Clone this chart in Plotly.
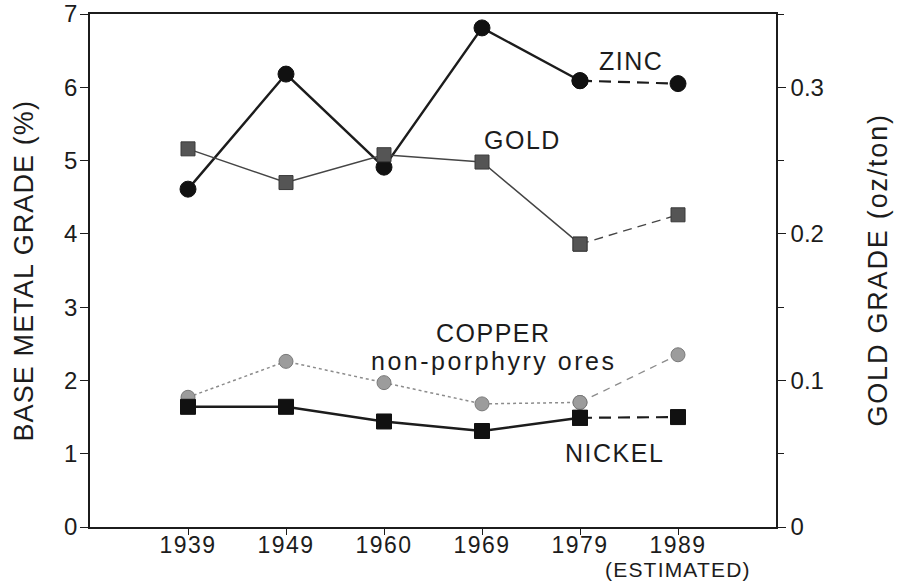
import plotly.graph_objects as go

years = ["1939", "1949", "1960", "1969", "1979", "1989"]
zinc = [4.61, 6.18, 4.91, 6.81, 6.09, 6.05]
gold = [0.258, 0.235, 0.254, 0.249, 0.193, 0.213]   # oz/ton, right axis
copper = [1.77, 2.26, 1.97, 1.68, 1.70, 2.35]
nickel = [1.64, 1.64, 1.44, 1.31, 1.49, 1.50]

FONT = "Liberation Sans, Arial, sans-serif"
INK = "#1c1c1c"


def sp(text, px):
    return f"<span style='letter-spacing:{px}px'>{text}</span>"


fig = go.Figure()


def add_series(vals, yaxis, line_col, width, dash_solid, dash_est, m_sym, m_size, m_col, m_line):
    # measured part 1939-1979
    fig.add_trace(go.Scatter(
        x=years[:5], y=vals[:5], mode="lines+markers", yaxis=yaxis,
        line=dict(color=line_col, width=width, dash=dash_solid),
        marker=dict(symbol=m_sym, size=m_size, color=m_col, line=dict(color=m_line, width=1)),
        showlegend=False, hoverinfo="skip"))
    # estimated part 1979-1989
    fig.add_trace(go.Scatter(
        x=years[4:], y=vals[4:], mode="lines+markers", yaxis=yaxis,
        line=dict(color=line_col, width=width * 0.9, dash=dash_est),
        marker=dict(symbol=m_sym, size=m_size, color=m_col, line=dict(color=m_line, width=1)),
        showlegend=False, hoverinfo="skip"))


add_series(zinc, "y", INK, 2.4, "solid", "12px,7px", "circle", 16, "#111111", "#111111")
add_series(gold, "y2", "#454545", 1.5, "solid", "9px,6px", "square", 14, "#555555", "#3a3a3a")
add_series(copper, "y", "#8c8c8c", 1.5, "dot", "7px,6px", "circle", 14, "#9c9c9c", "#7a7a7a")
add_series(nickel, "y", INK, 2.4, "solid", "12px,7px", "square", 15, "#111111", "#111111")

ann_font = dict(family=FONT, size=25, color=INK)
labels = [
    ("ZINC", 4.52, 6.36, 1.5),
    ("GOLD", 3.41, 5.28, 1.5),
    ("COPPER", 3.12, 2.65, 1.5),
    ("non-porphyry ores", 3.12, 2.27, 2.5),
    ("NICKEL", 4.35, 1.01, 1.5),
]
for txt, xx, yy, ls in labels:
    fig.add_annotation(x=xx, y=yy, xref="x", yref="y", text=sp(txt, ls),
                       showarrow=False, font=ann_font, xanchor="center", yanchor="middle")

fig.add_annotation(x=5, y=0, xref="x", yref="y", yshift=-42, text=sp("(ESTIMATED)", 1.2),
                   showarrow=False, font=dict(family=FONT, size=21, color=INK),
                   xanchor="center", yanchor="middle")

fig.add_annotation(x=0, y=0.5, xref="paper", yref="paper", xshift=-67, textangle=-90,
                   text=sp("BASE METAL GRADE (%)", 1.1), showarrow=False,
                   font=dict(family=FONT, size=27, color=INK), xanchor="center", yanchor="middle")
fig.add_annotation(x=1, y=0.5, xref="paper", yref="paper", xshift=101, textangle=-90,
                   text=sp("GOLD GRADE (oz/ton)", 1.8), showarrow=False,
                   font=dict(family=FONT, size=27, color=INK), xanchor="center", yanchor="middle")

tick_font = dict(family=FONT, size=23, color=INK)
fig.update_layout(
    width=900, height=581,
    margin=dict(l=90, r=124, t=14, b=54),
    paper_bgcolor="white", plot_bgcolor="white",
    xaxis=dict(type="category", range=[-1, 6], tickvals=years,
               ticktext=[sp(y, 1.5) for y in years], automargin=False,
               showline=True, linecolor=INK, linewidth=1.5, mirror=True,
               ticks="outside", ticklen=6, tickcolor=INK, showgrid=False, zeroline=False,
               ticklabelstandoff=-9, tickfont=tick_font),
    yaxis=dict(range=[0, 7], dtick=1, showline=True, linecolor=INK, linewidth=1.5,
               ticks="outside", ticklen=8, tickcolor=INK, showgrid=False, zeroline=False,
               automargin=False, ticklabelstandoff=-2,
               tickfont=dict(family=FONT, size=24, color=INK)),
    yaxis2=dict(range=[0, 0.35], dtick=0.1, overlaying="y", side="right",
                showline=True, linecolor=INK, linewidth=1.5, automargin=False,
                ticks="outside", ticklen=8, tickcolor=INK, showgrid=False, zeroline=False,
                minor=dict(dtick=0.05, ticks="outside", ticklen=6, tickcolor=INK),
                tickfont=dict(family=FONT, size=24, color=INK)),
)

fig.write_html("out.html", config={"displayModeBar": False},
               post_script="document.body.style.margin='0';")
